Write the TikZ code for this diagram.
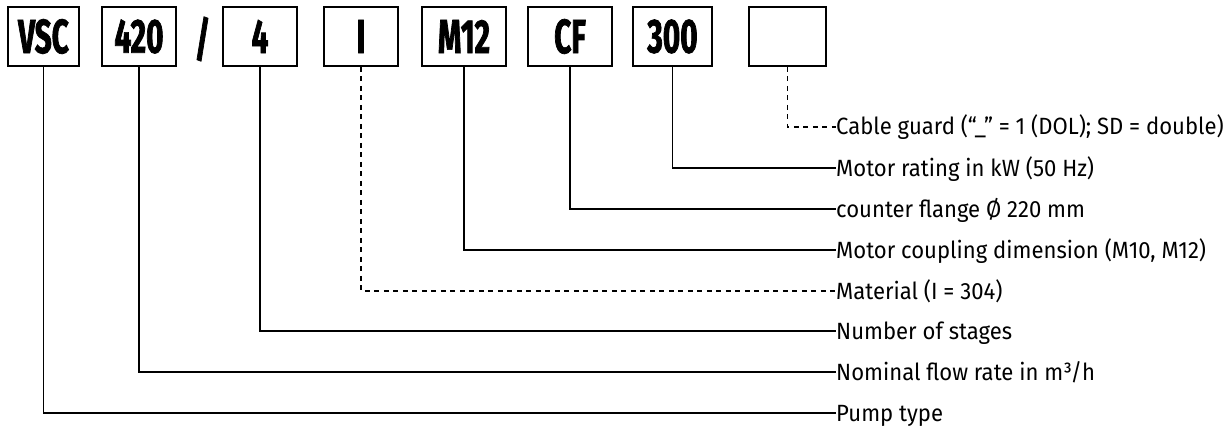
\documentclass[tikz,border=0pt]{standalone}
\usepackage{fontspec}
\setmainfont[FakeStretch=0.94]{Fira Sans}
\newfontfamily\codefont[FakeStretch=0.62,FakeBold=1.5]{Fira Sans}
\begin{document}
\begin{tikzpicture}[x=1pt,y=-1pt,
  codebox/.style={draw, line width=1.8pt, minimum height=59pt, inner sep=0pt,
    font=\codefont\bfseries\fontsize{48}{48}\selectfont},
  lab/.style={anchor=west, inner sep=0pt, text height=16pt, text depth=0pt,
    font=\fontsize{23.5}{25}\selectfont},
  conn/.style={line width=1.3pt},
  dconn/.style={conn, dash pattern=on 5pt off 4.5pt}]
\useasboundingbox (0,0) rectangle (1231,433);
% code boxes
\node[codebox, minimum width=71pt] (vsc) at (43.5,36.5) {VSC};
\node[codebox, minimum width=74pt] (flow) at (139,36.5) {420};
\node[font=\codefont\bfseries\fontsize{48}{48}\selectfont, inner sep=0pt] (slash) at (202.5,39) {/};
\node[codebox, minimum width=74pt] (stg) at (260,36.5) {4};
\node[codebox, minimum width=74pt] (mat) at (361,36.5) {I};
\node[codebox, minimum width=84pt] (cpl) at (464,36.5) {M12};
\node[codebox, minimum width=84pt] (flg) at (570,36.5) {CF};
\node[codebox, minimum width=79pt] (pwr) at (672.5,36.5) {300};
\node[codebox, minimum width=77pt] (cab) at (787.5,36.5) {};
% labels
\node[lab] (l1) at (836,127) {Cable guard (“\_” = 1 (DOL); SD = double)};
\node[lab] (l2) at (836,168) {Motor rating in kW (50 Hz)};
\node[lab] (l3) at (836,209) {counter flange Ø 220 mm};
\node[lab] (l4) at (836,250) {Motor coupling dimension (M10, M12)};
\node[lab] (l5) at (836,291) {Material (I = 304)};
\node[lab] (l6) at (836,331) {Number of stages};
\node[lab] (l7) at (836,372) {Nominal flow rate in m³/h};
\node[lab] (l8) at (836,413) {Pump type};
% connectors
\draw[dconn] (cab.south) |- (l1.west);
\draw[conn] (pwr.south) |- (l2.west);
\draw[conn] (flg.south) |- (l3.west);
\draw[conn] (cpl.south) |- (l4.west);
\draw[dconn] (mat.south) |- (l5.west);
\draw[conn] (stg.south) |- (l6.west);
\draw[conn] (flow.south) |- (l7.west);
\draw[conn] (vsc.south) |- (l8.west);
\end{tikzpicture}
\end{document}
